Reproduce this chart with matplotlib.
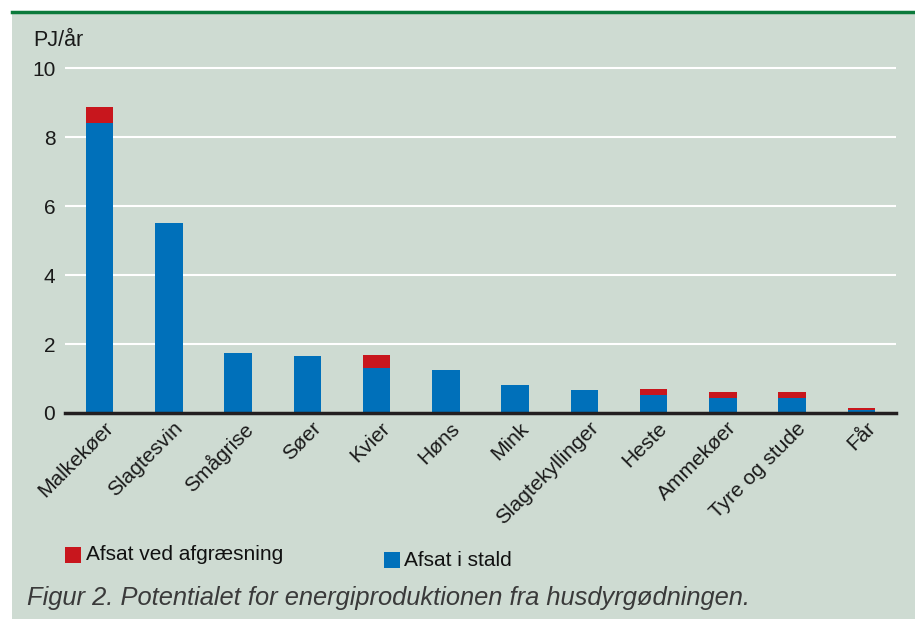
import matplotlib
matplotlib.use("Agg")
from matplotlib import pyplot as plt
from matplotlib.patches import Rectangle
from matplotlib.lines import Line2D
from matplotlib.transforms import ScaledTranslation

# data (PJ/år)
categories = ["Malkekøer", "Slagtesvin", "Smågrise", "Søer", "Kvier", "Høns", "Mink",
              "Slagtekyllinger", "Heste", "Ammekøer", "Tyre og stude", "Får"]
stald = [8.40, 5.50, 1.73, 1.65, 1.31, 1.25, 0.81, 0.67, 0.52, 0.43, 0.43, 0.09]
afgraesning = [0.47, 0.0, 0.0, 0.0, 0.37, 0.0, 0.0, 0.0, 0.18, 0.18, 0.18, 0.05]
yticks = [0, 2, 4, 6, 8, 10]

bg = "#cedbd2"
blue = "#0070ba"
red = "#c8161d"
W, H = 915, 619

plt.rcParams["font.family"] = ["Liberation Sans", "DejaVu Sans"]

fig = plt.figure(figsize=(W / 100, H / 100), dpi=100)
fig.patch.set_facecolor("white")
# panel background and green top rule
fig.patches.append(Rectangle((12 / W, 0), 1, 1 - 12 / H, transform=fig.transFigure,
                             facecolor=bg, edgecolor="none", zorder=-10))
fig.lines.append(Line2D([12 / W, 1], [1 - 12 / H, 1 - 12 / H], transform=fig.transFigure,
                        color="#0b7a3b", lw=2.5))

ymax = 10.1
px_per = 34.47
y0 = 413
ax = fig.add_axes([65 / W, 1 - y0 / H, (896 - 65) / W, ymax * px_per / H])
ax.set_facecolor("none")

x = list(range(len(categories)))
ax.bar(x, stald, width=0.4, color=blue, zorder=3)
ax.bar(x, afgraesning, width=0.4, bottom=stald, color=red, zorder=3)

ax.set_xlim(-0.5, len(categories) - 0.5)
ax.set_ylim(0, ymax)
ax.set_yticks(yticks)
ax.set_yticklabels([str(t) for t in yticks], fontsize=15, color="#1a1a1a")
ax.yaxis.grid(True, color="white", lw=1.5, zorder=1)
ax.tick_params(axis="y", length=0, pad=7)
ax.tick_params(axis="x", length=0, pad=4)
ax.set_xticks(x)
ax.set_xticklabels(categories, rotation=45, ha="right", rotation_mode="anchor",
                   fontsize=15, color="#1a1a1a")
shift = ScaledTranslation(4 / 100, 0, fig.dpi_scale_trans)
for lab in ax.get_xticklabels():
    lab.set_transform(lab.get_transform() + shift)
for s in ["top", "right", "left"]:
    ax.spines[s].set_visible(False)
ax.spines["bottom"].set_color("#231f20")
ax.spines["bottom"].set_linewidth(2.5)
ax.spines["bottom"].set_zorder(4)

fig.text(33 / W, 1 - 40 / H, "PJ/år", fontsize=15.5, va="center", color="#1a1a1a")

# legend
fig.patches.append(Rectangle((65 / W, 1 - 563 / H), 16 / W, 16 / H, transform=fig.transFigure,
                             facecolor=red, edgecolor="none"))
fig.text(86 / W, 1 - 555 / H, "Afsat ved afgræsning", fontsize=15, va="center", color="#111111")
fig.patches.append(Rectangle((384 / W, 1 - 568 / H), 16 / W, 16 / H, transform=fig.transFigure,
                             facecolor=blue, edgecolor="none"))
fig.text(404 / W, 1 - 560 / H, "Afsat i stald", fontsize=15, va="center", color="#111111")

fig.text(27 / W, 1 - 598 / H, "Figur 2. Potentialet for energiproduktionen fra husdyrgødningen.",
         fontsize=18.4, style="italic", va="center", color="#3a3a3a")

fig.savefig("out.png", dpi=100, facecolor=fig.get_facecolor())
